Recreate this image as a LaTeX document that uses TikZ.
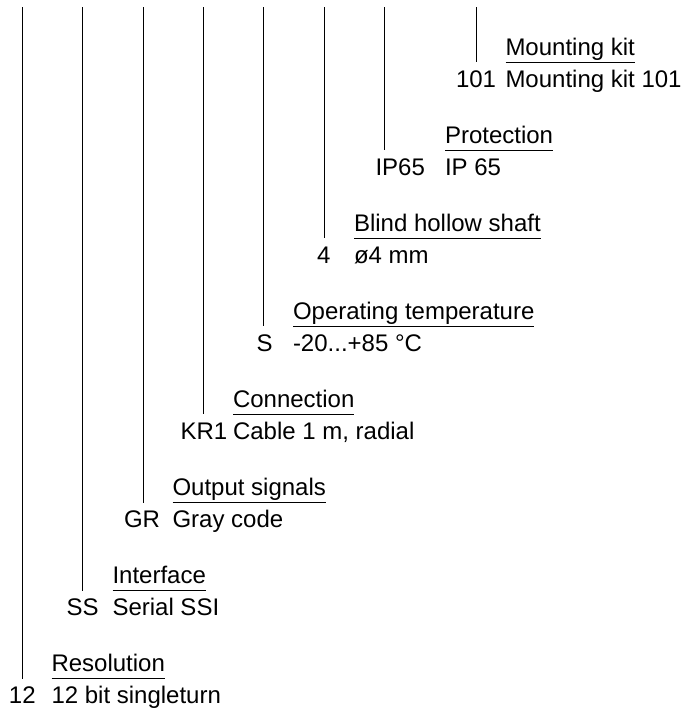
\documentclass[tikz,border=0pt]{standalone}
\usepackage{fontspec}
\setmainfont{Liberation Sans}
\begin{document}
\begin{tikzpicture}[x=1pt,y=-1pt,
  every node/.style={inner sep=0pt,outer sep=0pt,font=\fontsize{24}{28}\selectfont},
  codetxt/.style={anchor=base west},
  ttl/.style={anchor=base west},
  desc/.style={anchor=base west},
  leader/.style={line width=1pt,black},
  ul/.style={line width=1pt,black}]
\useasboundingbox (0,0) rectangle (681,710);
% row 0: Mounting kit
\coordinate (a0) at (476,7);  \coordinate (b0) at (476,62);
\node[codetxt] (c0) at (456,87) {101};
\node[ttl] (t0) at (505.5,55) {Mounting kit};
\node[desc] (d0) at (505.5,87) {Mounting kit 101};
% row 1: Protection
\coordinate (a1) at (384,7);  \coordinate (b1) at (384,150.1);
\node[codetxt] (c1) at (375.5,175.1) {IP65};
\node[ttl] (t1) at (445,143.1) {Protection};
\node[desc] (d1) at (445,175.1) {IP 65};
% row 2: Blind hollow shaft
\coordinate (a2) at (324,7);  \coordinate (b2) at (324,238.2);
\node[codetxt] (c2) at (317,263.2) {4};
\node[ttl] (t2) at (354,231.2) {Blind hollow shaft};
\node[desc] (d2) at (354,263.2) {ø4 mm};
% row 3: Operating temperature
\coordinate (a3) at (263,7);  \coordinate (b3) at (263,326.3);
\node[codetxt] (c3) at (256.5,351.3) {S};
\node[ttl] (t3) at (293,319.3) {Operating temperature};
\node[desc] (d3) at (293,351.3) {-20...+85 °C};
% row 4: Connection
\coordinate (a4) at (203,7);  \coordinate (b4) at (203,414.4);
\node[codetxt] (c4) at (180.5,439.4) {KR1};
\node[ttl] (t4) at (233,407.4) {Connection};
\node[desc] (d4) at (233,439.4) {Cable 1 m, radial};
% row 5: Output signals
\coordinate (a5) at (143,7);  \coordinate (b5) at (143,502.5);
\node[codetxt] (c5) at (124,527.5) {GR};
\node[ttl] (t5) at (172.5,495.5) {Output signals};
\node[desc] (d5) at (172.5,527.5) {Gray code};
% row 6: Interface
\coordinate (a6) at (82,7);  \coordinate (b6) at (82,590.6);
\node[codetxt] (c6) at (66.5,615.6) {SS};
\node[ttl] (t6) at (112.5,583.6) {Interface};
\node[desc] (d6) at (112.5,615.6) {Serial SSI};
% row 7: Resolution
\coordinate (a7) at (22,7);  \coordinate (b7) at (22,678.7);
\node[codetxt] (c7) at (9,703.7) {12};
\node[ttl] (t7) at (51.5,671.7) {Resolution};
\node[desc] (d7) at (51.5,703.7) {12 bit singleturn};
% leaders and underlines
\foreach \i in {0,...,7}{
  \draw[leader] (a\i) -- (b\i);
  \draw[ul] ([yshift=-7pt]t\i.base west) -- ([yshift=-7pt]t\i.base east);
}
\end{tikzpicture}
\end{document}
